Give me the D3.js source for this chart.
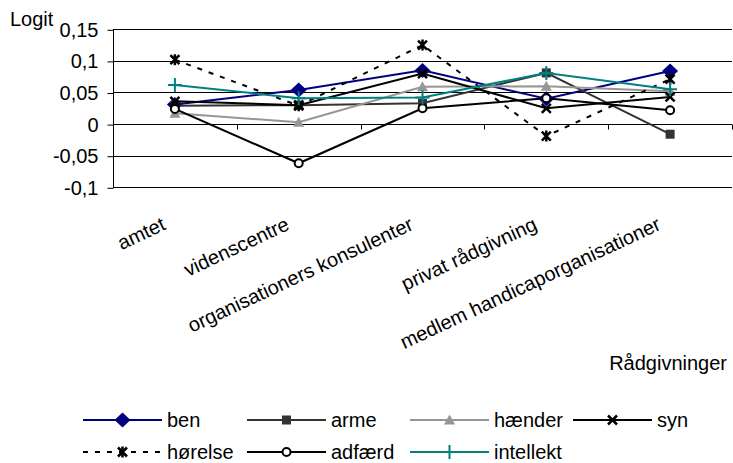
<!DOCTYPE html>
<html>
<head>
<meta charset="utf-8">
<script src="https://cdn.jsdelivr.net/npm/d3@7"></script>
<style>
  html, body { margin: 0; padding: 0; background: #fff; }
  svg { display: block; }
  text { font-family: "Liberation Sans", Arial, sans-serif; fill: #000; }
</style>
</head>
<body>
<svg id="chart" width="733" height="463"></svg>
<script>
const categories = ["amtet", "videnscentre", "organisationers konsulenter", "privat rådgivning", "medlem handicaporganisationer"];
const ben       = [0.031, 0.054, 0.085, 0.040, 0.084];
const arme      = [0.029, 0.030, 0.033, 0.081, -0.016];
const haender   = [0.017, 0.003, 0.059, 0.060, 0.052];
const syn       = [0.036, 0.030, 0.080, 0.025, 0.043];
const hoerelse  = [0.102, 0.029, 0.125, -0.019, 0.071];
const adfaerd   = [0.024, -0.062, 0.025, 0.041, 0.022];
const intellekt = [0.062, 0.041, 0.042, 0.081, 0.055];
const seriesNames = ["ben", "arme", "hænder", "syn", "hørelse", "adfærd", "intellekt"];
const yTicks = [-0.1, -0.05, 0, 0.05, 0.1, 0.15];
const yTickLabels = ["-0,1", "-0,05", "0", "0,05", "0,1", "0,15"];
const yTitle = "Logit";
const xTitle = "Rådgivninger";

const seriesValues = [ben, arme, haender, syn, hoerelse, adfaerd, intellekt];
const styles = [
  {color: "#000080", marker: "diamond", dash: null},
  {color: "#333333", marker: "square", dash: null},
  {color: "#969696", marker: "triangle", dash: null},
  {color: "#000000", marker: "x", dash: null},
  {color: "#000000", marker: "asterisk", dash: "5,7"},
  {color: "#000000", marker: "circle", dash: null},
  {color: "#008080", marker: "plus", dash: null}
];

const svg = d3.select("#chart");
const plot = {left: 113, right: 732, top: 29.3, bottom: 187.3};
const FONT = 20;

const x = d3.scaleBand().domain(categories).range([plot.left, plot.right]).paddingInner(0).paddingOuter(0);
const cx = c => x(c) + x.bandwidth() / 2;
const y = d3.scaleLinear().domain([-0.1, 0.15]).range([plot.bottom, plot.top]);

// gridlines
svg.append("g").selectAll("line").data(yTicks.filter(v => v !== 0)).join("line")
  .attr("x1", plot.left).attr("x2", plot.right)
  .attr("y1", d => Math.round(y(d)) + 0.5).attr("y2", d => Math.round(y(d)) + 0.5)
  .attr("stroke", "#000").attr("stroke-width", 1);

// y axis
const yAxis = d3.axisLeft(y).tickValues(yTicks).tickFormat((d, i) => yTickLabels[i]).tickSize(6).tickPadding(9);
const gy = svg.append("g").attr("transform", `translate(${plot.left + 0.5},0.5)`).call(yAxis);
gy.select(".domain").attr("d", `M0,${Math.round(plot.top)}V${Math.round(plot.bottom)}`).attr("stroke", "#000");
gy.selectAll("line").attr("stroke", "#000");
gy.selectAll("text").attr("font-size", FONT).attr("font-family", "Liberation Sans, Arial, sans-serif").attr("fill", "#000");

// x axis at zero
const y0 = Math.round(y(0)) + 0.5;
svg.append("line").attr("x1", plot.left).attr("x2", plot.right).attr("y1", y0).attr("y2", y0).attr("stroke", "#000");
const boundaries = categories.map(c => x(c)).concat([x(categories[categories.length - 1]) + x.bandwidth()]);
svg.append("g").selectAll("line").data(boundaries).join("line")
  .attr("x1", d => Math.round(d) + 0.5).attr("x2", d => Math.round(d) + 0.5)
  .attr("y1", y0).attr("y2", y0 + 5).attr("stroke", "#000");

// category labels (rotated)
svg.append("g").selectAll("text").data(categories).join("text")
  .attr("transform", d => `translate(${cx(d) - 8},229) rotate(-25)`)
  .attr("text-anchor", "end")
  .attr("font-size", FONT)
  .text(d => d);

// titles
svg.append("text").attr("x", 10).attr("y", 26).attr("font-size", FONT).text(yTitle);
svg.append("text").attr("x", 727).attr("y", 370).attr("text-anchor", "end").attr("font-size", FONT).text(xTitle);

// markers
function drawMarker(g, type, color) {
  switch (type) {
    case "diamond":
      g.append("path").attr("d", "M0,-7.5L8,0L0,7.5L-8,0Z").attr("fill", color); break;
    case "square":
      g.append("rect").attr("x", -4.5).attr("y", -4.5).attr("width", 9).attr("height", 9).attr("fill", color); break;
    case "triangle":
      g.append("path").attr("d", "M0,-5.5L5.5,4.5L-5.5,4.5Z").attr("fill", color); break;
    case "x":
      g.append("path").attr("d", "M-4.5,-4.5L4.5,4.5M-4.5,4.5L4.5,-4.5").attr("stroke", color).attr("stroke-width", 2.5).attr("fill", "none"); break;
    case "asterisk":
      g.append("path").attr("d", "M-4.5,-4.5L4.5,4.5M-4.5,4.5L4.5,-4.5M0,-5.5V5.5").attr("stroke", color).attr("stroke-width", 2.5).attr("fill", "none"); break;
    case "circle":
      g.append("circle").attr("r", 4).attr("fill", "#fff").attr("stroke", color).attr("stroke-width", 2); break;
    case "plus":
      g.append("path").attr("d", "M-7,0H7M0,-7V7").attr("stroke", color).attr("stroke-width", 2).attr("fill", "none"); break;
  }
}

const line = d3.line().x((d, i) => cx(categories[i])).y(d => y(d));
seriesValues.forEach((vals, si) => {
  const st = styles[si];
  const g = svg.append("g");
  g.append("path").attr("d", line(vals)).attr("fill", "none")
    .attr("stroke", st.color).attr("stroke-width", 2)
    .attr("stroke-dasharray", st.dash);
  vals.forEach((v, i) => {
    drawMarker(g.append("g").attr("transform", `translate(${cx(categories[i])},${y(v)})`), st.marker, st.color);
  });
});

// legend
const legendPos = [
  {x: 83, y: 420}, {x: 247, y: 420}, {x: 410, y: 420}, {x: 573, y: 420},
  {x: 83, y: 452}, {x: 247, y: 452}, {x: 410, y: 452}
];
seriesNames.forEach((name, si) => {
  const st = styles[si];
  const p = legendPos[si];
  const g = svg.append("g").attr("transform", `translate(${p.x},${p.y})`);
  g.append("line").attr("x1", 0).attr("x2", 79).attr("y1", 0).attr("y2", 0)
    .attr("stroke", st.color).attr("stroke-width", 2).attr("stroke-dasharray", st.dash);
  drawMarker(g.append("g").attr("transform", "translate(39.5,0)"), st.marker, st.color);
  g.append("text").attr("x", 84).attr("y", 7).attr("font-size", FONT).text(name);
});
</script>
</body>
</html>
